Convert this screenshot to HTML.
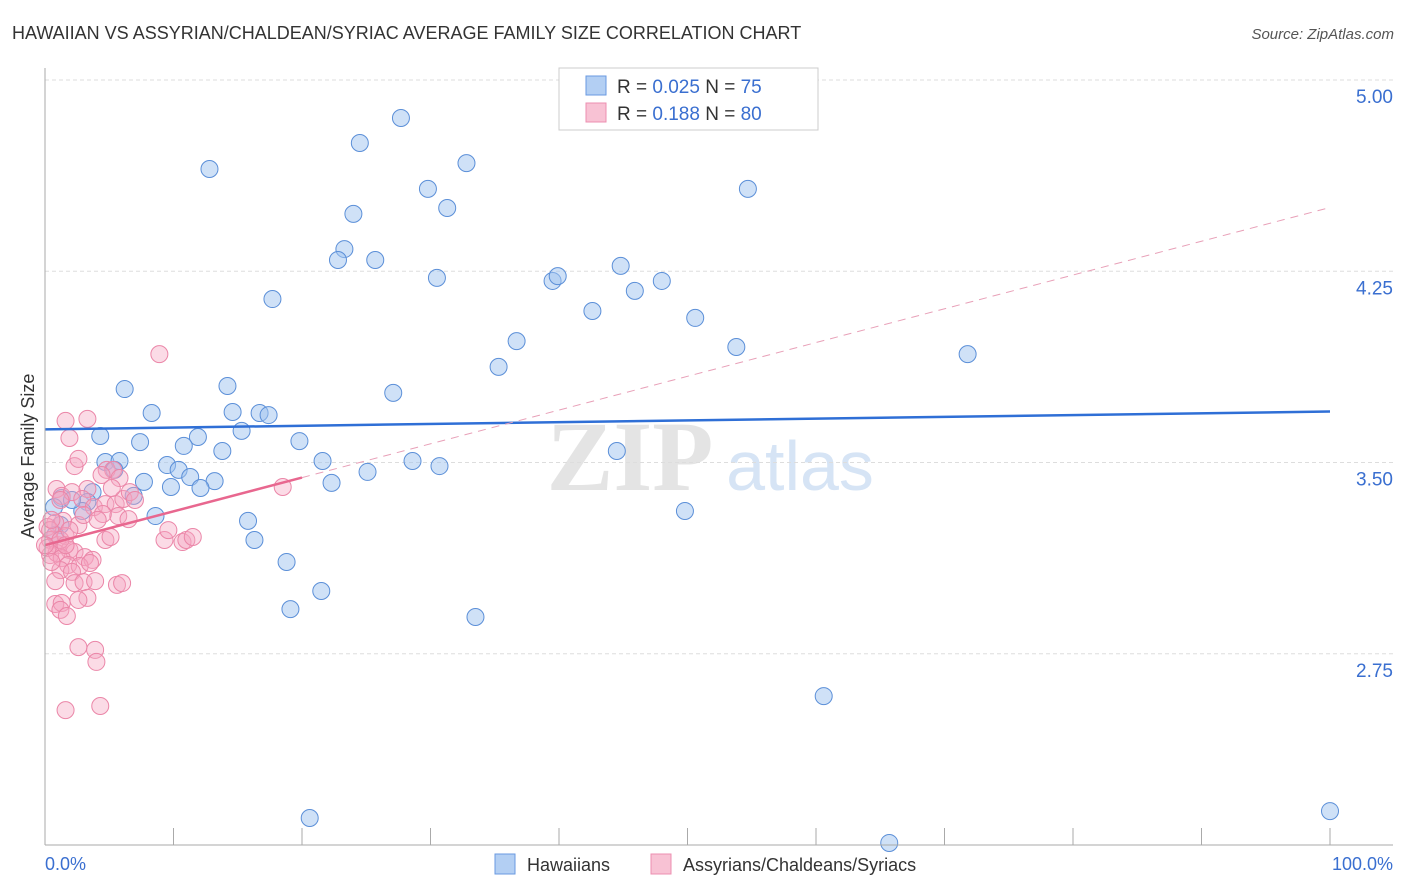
<!DOCTYPE html>
<html><head><meta charset="utf-8"><style>
body{margin:0;background:#fff;font-family:"Liberation Sans",sans-serif;}
#c{position:relative;width:1406px;height:892px;overflow:hidden;}
</style></head><body>
<div id="c">
<svg id="s" width="1406" height="892" xmlns="http://www.w3.org/2000/svg" font-family="Liberation Sans, sans-serif">
<text x="12" y="39" font-size="18" fill="#333">HAWAIIAN VS ASSYRIAN/CHALDEAN/SYRIAC AVERAGE FAMILY SIZE CORRELATION CHART</text>
<text x="1394" y="39" font-size="15" fill="#555" font-style="italic" text-anchor="end">Source: ZipAtlas.com</text>
<text x="630" y="490" font-size="100" fill="#e4e4e4" font-weight="bold" font-family="Liberation Serif, serif" text-anchor="middle">ZIP</text>
<text x="800" y="490" font-size="70" fill="#d6e4f5" text-anchor="middle">atlas</text>
<text transform="translate(34,456) rotate(-90)" font-size="18" fill="#333" text-anchor="middle">Average Family Size</text>
<g id="grid"></g><g id="pts"></g><g id="lines"></g>
<line x1="45" y1="68" x2="45" y2="845" stroke="#aaa"/>
<line x1="45" y1="845" x2="1393" y2="845" stroke="#aaa"/>
<text x="45" y="870" font-size="18" fill="#3a6fd0">0.0%</text>
<text x="1393" y="870" font-size="18" fill="#3a6fd0" text-anchor="end">100.0%</text>
<g>
<rect x="559" y="68" width="259" height="62" fill="#fff" stroke="#ccc"/>
<rect x="586" y="76" width="20" height="19" fill="#b3cff3" stroke="#6a9ae0"/>
<rect x="586" y="103" width="20" height="19" fill="#f8c2d4" stroke="#ec8fb0"/>
<text x="617" y="93" font-size="19" fill="#333">R = <tspan fill="#3a6fd0">0.025</tspan>   N = <tspan fill="#3a6fd0">75</tspan></text>
<text x="617" y="120" font-size="19" fill="#333">R =  <tspan fill="#3a6fd0">0.188</tspan>   N = <tspan fill="#3a6fd0">80</tspan></text>
</g>
<g>
<rect x="495" y="854" width="20" height="20" fill="#b3cff3" stroke="#6a9ae0"/>
<text x="527" y="871" font-size="18" fill="#333">Hawaiians</text>
<rect x="651" y="854" width="20" height="20" fill="#f8c2d4" stroke="#ec8fb0"/>
<text x="683" y="871" font-size="18" fill="#333">Assyrians/Chaldeans/Syriacs</text>
</g>
</svg>
</div>
<script>
const yTicks=[5.00,4.25,3.50,2.75];
const yTickLabels=["5.00","4.25","3.50","2.75"];
const xTicks=[10,20,30,40,50,60,70,80,90,100];
const blueX=[27.7,24.5,12.8,32.8,29.8,54.7,24.0,31.3,23.3,22.8,25.7,30.5,39.5,39.9,44.8,48.0,45.9,17.7,42.6,50.6,36.7,53.8,71.8,35.3,6.2,14.2,27.1,8.3,14.6,16.7,17.4,4.3,7.4,15.3,11.9,10.8,19.8,13.8,44.5,21.6,9.5,10.4,4.7,5.8,28.6,30.7,25.1,11.3,7.7,13.2,9.8,12.1,22.3,3.7,1.3,3.3,6.9,0.7,2.9,8.6,15.8,49.8,16.3,1.2,0.8,18.8,21.5,19.1,33.5,60.6,20.6,65.7,100,2.1,5.4];
const blueY=[4.851,4.753,4.651,4.674,4.573,4.573,4.475,4.498,4.337,4.294,4.294,4.224,4.212,4.231,4.271,4.212,4.173,4.141,4.094,4.067,3.976,3.953,3.925,3.875,3.788,3.800,3.773,3.694,3.698,3.694,3.686,3.604,3.580,3.624,3.600,3.565,3.584,3.545,3.545,3.506,3.490,3.471,3.502,3.506,3.506,3.486,3.463,3.443,3.424,3.427,3.404,3.400,3.420,3.384,3.361,3.345,3.369,3.325,3.310,3.290,3.271,3.310,3.196,3.255,3.216,3.110,2.996,2.925,2.894,2.584,2.106,2.008,2.133,3.353,3.471];
const pinkX=[8.9,1.6,3.3,1.9,2.3,2.6,4.8,5.3,5.8,4.4,3.3,0.9,1.3,2.1,2.9,3.8,4.7,5.5,6.1,6.6,7.0,5.7,4.5,6.5,2.6,1.4,0.8,0.2,0.4,1.0,1.6,1.9,2.3,3.1,3.7,4.7,5.1,9.3,9.6,10.7,11.0,11.5,18.5,0.4,0.9,1.3,1.8,2.7,3.5,1.2,2.1,0.8,2.3,3.0,3.9,5.6,6.0,0.8,1.3,1.2,1.7,3.3,2.6,2.6,3.9,4.0,1.6,4.3,0.4,0.2,1.2,0.5,1.6,0,1.9,3.0,4.1,1.2,5.2,0.5];
const pinkY=[3.925,3.663,3.671,3.596,3.486,3.514,3.471,3.471,3.439,3.451,3.396,3.396,3.369,3.384,3.357,3.325,3.337,3.337,3.357,3.384,3.353,3.290,3.298,3.278,3.255,3.271,3.263,3.247,3.196,3.176,3.212,3.157,3.149,3.129,3.118,3.196,3.208,3.196,3.235,3.188,3.196,3.208,3.404,3.137,3.145,3.125,3.098,3.094,3.106,3.078,3.071,3.035,3.027,3.031,3.035,3.020,3.027,2.945,2.949,2.922,2.898,2.969,2.961,2.776,2.765,2.718,2.529,2.545,3.235,3.165,3.196,3.275,3.176,3.176,3.235,3.294,3.275,3.353,3.400,3.110];
const blueTrend=[3.63,3.70];
const pinkTrend=[3.176,4.50];
const pinkSolidEnd=20;
const NS="http://www.w3.org/2000/svg";
function xs(p){return 45+p*12.85;}
function ys(v){return 80+(5-v)*255;}
function mk(t,a,parent){const e=document.createElementNS(NS,t);for(const k in a)e.setAttribute(k,a[k]);parent.appendChild(e);return e;}
const grid=document.getElementById('grid'),pts=document.getElementById('pts'),lines=document.getElementById('lines'),svg=document.getElementById('s');
yTicks.forEach((v,i)=>{
  const l=mk('line',{x1:45,x2:1393,y1:ys(v),y2:ys(v),stroke:'#ddd','stroke-dasharray':'4,3'},grid);
  
  
  const t=mk('text',{x:1393,y:ys(v)+23,'font-size':19,fill:'#3a6fd0','text-anchor':'end'},svg);
  t.textContent=yTickLabels[i];
  
  
});
xTicks.forEach(p=>{
  const l=mk('line',{x1:xs(p),x2:xs(p),y1:828,y2:845,stroke:'#aaa'},grid);
  
  
});
blueX.forEach((p,i)=>{
  const c=mk('circle',{cx:xs(p),cy:ys(blueY[i]),r:8.5,fill:'rgba(160,196,240,0.5)',stroke:'#5b8fd8','stroke-width':1},pts);
  
  
});
pinkX.forEach((p,i)=>{
  const c=mk('circle',{cx:xs(p),cy:ys(pinkY[i]),r:8.5,fill:'rgba(244,166,192,0.4)',stroke:'#eb86a8','stroke-width':1},pts);
  
  
});
const bl=mk('line',{x1:xs(0),y1:ys(blueTrend[0]),x2:xs(100),y2:ys(blueTrend[1]),stroke:'#2f6fd6','stroke-width':2.5},lines);


const pMid=pinkTrend[0]+(pinkTrend[1]-pinkTrend[0])*pinkSolidEnd/100;
const pd=mk('line',{x1:xs(pinkSolidEnd),y1:ys(pMid),x2:xs(100),y2:ys(pinkTrend[1]),stroke:'#e8a0b8','stroke-width':1,'stroke-dasharray':'8,6'},lines);


const ps=mk('line',{x1:xs(0),y1:ys(pinkTrend[0]),x2:xs(pinkSolidEnd),y2:ys(pMid),stroke:'#e8678f','stroke-width':2.5},lines);


</script>
</body></html>
